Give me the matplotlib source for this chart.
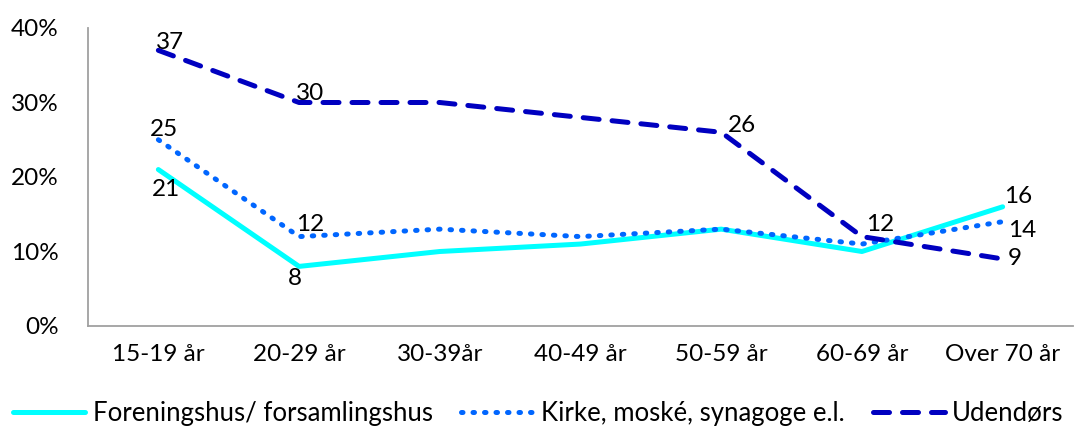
import matplotlib
matplotlib.use("Agg")
import matplotlib.pyplot as plt
from matplotlib.ticker import FuncFormatter

categories = ["15-19 år", "20-29 år", "30-39år", "40-49 år", "50-59 år", "60-69 år", "Over 70 år"]
forening = [21, 8, 10, 11, 13, 10, 16]
kirke = [25, 12, 13, 12, 13, 11, 14]
udendors = [37, 30, 30, 28, 26, 12, 9]
series_names = ["Foreningshus/ forsamlingshus", "Kirke, moské, synagoge e.l.", "Udendørs"]

plt.rcParams['font.family'] = ['Lato', 'DejaVu Sans']

fig = plt.figure(figsize=(10.77, 4.30), dpi=100)
ax = fig.add_axes([88/1077, 1 - 326/430, (1073 - 88)/1077, (326 - 28)/430])

x = list(range(len(categories)))
l1, = ax.plot(x, forening, color="#00FFFF", lw=3.6, solid_capstyle="round", label=series_names[0])
l2, = ax.plot(x, kirke, color="#0066FF", lw=3.6, linestyle=(0, (0.3, 2.0)), dash_capstyle="round", label=series_names[1])
l3, = ax.plot(x, udendors, color="#0000C0", lw=3.6, linestyle=(0, (3.2, 2.6)), dash_capstyle="round", label=series_names[2])

fs = 17.5
def lab(i, v, dx, dy, ha="left", va="bottom"):
    ax.annotate(str(v), (i, v), xytext=(dx, dy), textcoords="offset points", ha=ha, va=va, fontsize=fs)

# Foreningshus labels
lab(0, forening[0], -5, -7, ha="left", va="top")
lab(1, forening[1], -8, -1, ha="left", va="top")
lab(6, forening[6], 1, 0, ha="left", va="bottom")
# Kirke labels
lab(0, kirke[0], -6, 0, ha="left", va="bottom")
lab(1, kirke[1], -2, 1, ha="left", va="bottom")
lab(6, kirke[6], 4, -6, ha="left", va="center")
# Udendørs labels
lab(0, udendors[0], -2, -2, ha="left", va="bottom")
lab(1, udendors[1], -2, -1, ha="left", va="bottom")
lab(4, udendors[4], 5, -3, ha="left", va="bottom")
lab(5, udendors[5], 3, 1, ha="left", va="bottom")
lab(6, udendors[6], 4, 0, ha="left", va="center")

ax.set_xlim(-0.5, len(categories) - 0.5)
ax.set_ylim(0, 40)
ax.set_yticks([0, 10, 20, 30, 40])
ax.yaxis.set_major_formatter(FuncFormatter(lambda v, p: f"{int(v)}%"))
ax.set_xticks(x)
ax.set_xticklabels(categories)
ax.tick_params(axis="both", length=0, labelsize=fs, colors="black")
ax.tick_params(axis="y", pad=21)
ax.tick_params(axis="x", pad=13)
for s in ["top", "right"]:
    ax.spines[s].set_visible(False)
for s in ["left", "bottom"]:
    ax.spines[s].set_color("#A0A0A0")
    ax.spines[s].set_linewidth(1.3)

fig.legend(handles=[l1, l2, l3], loc="center", bbox_to_anchor=(0.5, 1 - 413/430), ncol=3,
           frameon=False, fontsize=18.5, handlelength=2.8, handletextpad=0.3, columnspacing=1.1,
           borderaxespad=0, borderpad=0)

fig.savefig("out.png", dpi=100)
